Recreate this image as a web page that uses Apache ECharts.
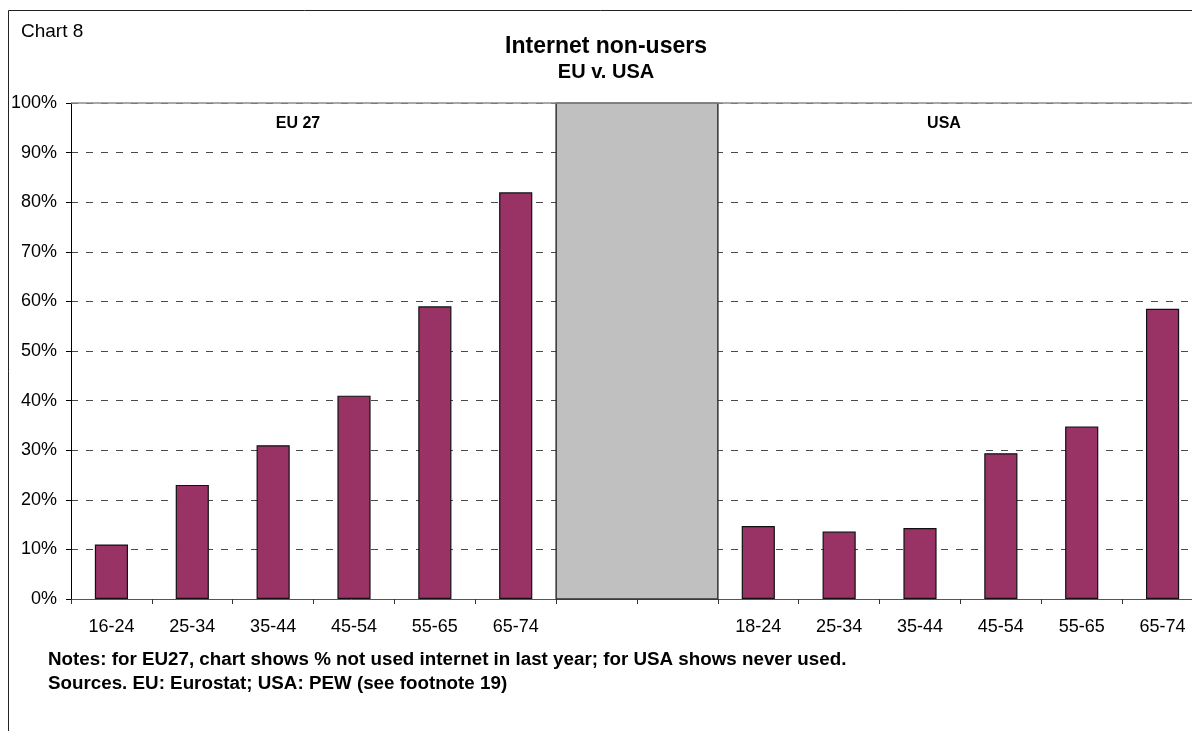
<!DOCTYPE html>
<html>
<head>
<meta charset="utf-8">
<title>Internet non-users — EU v. USA</title>
<script src="https://cdn.jsdelivr.net/npm/echarts@6/dist/echarts.min.js"></script>
<style>
  html, body { margin: 0; padding: 0; background: #ffffff; overflow: hidden; }
  #chart { width: 1192px; height: 731px; }
</style>
</head>
<body>
<div id="chart"></div>
<script>
// Age bands for each region; two empty slots separate the EU and USA groups
const euAges = ['16-24', '25-34', '35-44', '45-54', '55-65', '65-74'];
const usaAges = ['18-24', '25-34', '35-44', '45-54', '55-65', '65-74'];
const gapSlots = ['', ''];

// Share of people not using the internet (%)
const euNonUsers = [11, 23, 31, 41, 59, 82];
const usaNonUsers = [14.7, 13.6, 14.3, 29.4, 34.8, 58.5];

// Y axis range and step (%)
const yMin = 0;
const yMax = 100;
const yStep = 10;

const categories = euAges.concat(gapSlots, usaAges);
const barValues = euNonUsers.concat(gapSlots.map(() => null), usaNonUsers);

// Grey separator spanning the two empty slots, full height
const gapStart = euAges.length;
const gapEnd = euAges.length + gapSlots.length - 1;
const separatorData = [[gapStart, gapEnd, yMax]];

const FONT = "'Liberation Sans', Arial, Helvetica, sans-serif";

const chart = echarts.init(document.getElementById('chart'), null, { renderer: 'canvas' });

chart.setOption({
  backgroundColor: '#ffffff',
  animation: false,
  textStyle: { fontFamily: FONT },
  // the plot runs a little past the right edge of the page
  grid: {
    left: 71, width: 1132, top: 103, bottom: 132,
    containLabel: false,
    outerBoundsMode: 'none'
  },
  xAxis: {
    type: 'category',
    data: categories,
    boundaryGap: true,
    axisLine: { show: true, lineStyle: { color: '#555555', width: 1 } },
    axisTick: { show: true, alignWithLabel: false, interval: 0, length: 5, lineStyle: { color: '#333333' } },
    axisLabel: { interval: 0, margin: 19, color: '#000000', fontSize: 18, fontFamily: FONT },
    splitLine: { show: false }
  },
  yAxis: {
    type: 'value',
    min: yMin,
    max: yMax,
    interval: yStep,
    axisLine: { show: true, lineStyle: { color: '#000000', width: 1 } },
    axisTick: { show: true, length: 5, lineStyle: { color: '#000000' } },
    axisLabel: { formatter: '{value}%', margin: 14, color: '#000000', fontSize: 18, fontFamily: FONT },
    splitLine: { show: true, lineStyle: { color: '#4a4a4a', width: 1, type: [7, 8] } }
  },
  series: [
    {
      type: 'bar',
      data: barValues,
      barWidth: '41%',
      itemStyle: { color: '#993366', borderColor: '#111111', borderWidth: 1.2 },
      z: 2,
      markLine: {
        silent: true,
        symbol: 'none',
        label: { show: false },
        lineStyle: { type: 'solid', color: '#8c8c8c', width: 1.5 },
        data: [{ yAxis: yMax }]
      }
    },
    {
      type: 'custom',
      data: separatorData,
      encode: { x: [0, 1], y: 2 },
      z: 4,
      renderItem: function (params, api) {
        const base = api.coord([api.value(0), 0]);
        const top = api.coord([api.value(1), api.value(2)]);
        const band = api.size([1, 0])[0];
        return {
          type: 'rect',
          shape: {
            x: base[0] - band / 2,
            y: top[1],
            width: top[0] - base[0] + band,
            height: base[1] - top[1]
          },
          style: { fill: '#c0c0c0', stroke: '#333333', lineWidth: 1.5 }
        };
      }
    }
  ],
  graphic: [
    {
      type: 'rect',
      silent: true,
      shape: { x: 8.5, y: 10.5, width: 1400, height: 1000 },
      style: { fill: 'none', stroke: '#222222', lineWidth: 1 },
      z: 0
    },
    {
      type: 'text', left: 21, top: 22,
      style: { text: 'Chart 8', font: '19px ' + FONT, fill: '#000000' }
    },
    {
      type: 'text', x: 606, y: 47,
      style: { text: 'Internet non-users', font: 'bold 23px ' + FONT, fill: '#000000', textAlign: 'center', textVerticalAlign: 'middle' }
    },
    {
      type: 'text', x: 606, y: 72,
      style: { text: 'EU v. USA', font: 'bold 20px ' + FONT, fill: '#000000', textAlign: 'center', textVerticalAlign: 'middle' }
    },
    {
      type: 'text', x: 298, y: 124, z: 10,
      style: { text: 'EU 27', font: 'bold 16px ' + FONT, fill: '#000000', textAlign: 'center', textVerticalAlign: 'middle' }
    },
    {
      type: 'text', x: 944, y: 124, z: 10,
      style: { text: 'USA', font: 'bold 16px ' + FONT, fill: '#000000', textAlign: 'center', textVerticalAlign: 'middle' }
    },
    {
      type: 'text', x: 48, y: 660,
      style: { text: 'Notes: for EU27, chart shows % not used internet in last year; for USA shows never used.', font: 'bold 18.8px ' + FONT, fill: '#000000', textAlign: 'left', textVerticalAlign: 'middle' }
    },
    {
      type: 'text', x: 48, y: 684,
      style: { text: 'Sources. EU: Eurostat; USA: PEW (see footnote 19)', font: 'bold 18.8px ' + FONT, fill: '#000000', textAlign: 'left', textVerticalAlign: 'middle' }
    }
  ]
});
</script>
</body>
</html>
